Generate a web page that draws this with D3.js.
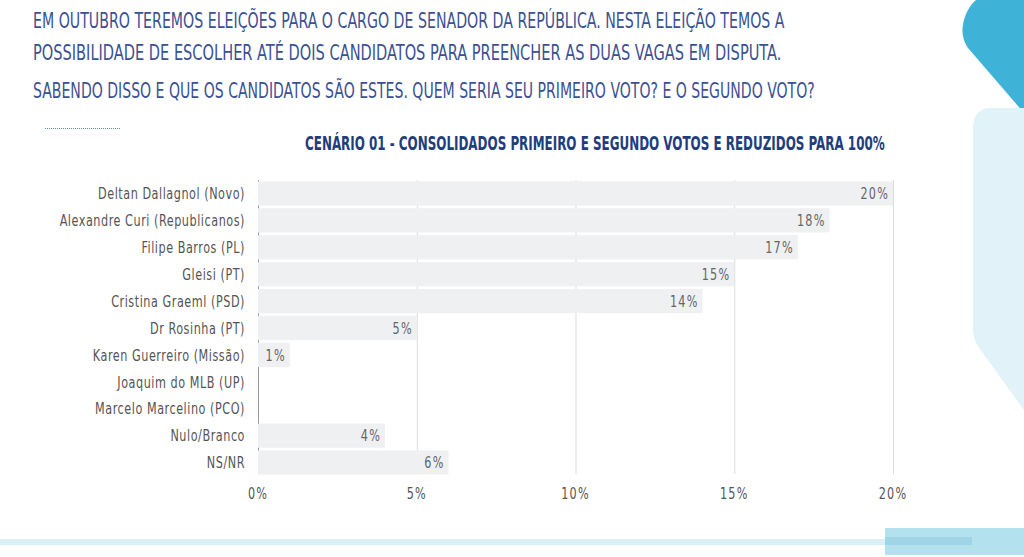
<!DOCTYPE html>
<html lang="pt">
  <head>
    <meta charset="utf-8">
    <title>Cenário 01</title>
    <style>
      html, body { margin: 0; padding: 0; background: #fff; }
      svg { display: block; }
    </style>
  </head>
  <body>
    <svg width="1024" height="557"></svg>
    <script src="https://cdn.jsdelivr.net/npm/d3@7/dist/d3.min.js"></script>
    <script>
      const headerLines = [
        'EM OUTUBRO TEREMOS ELEIÇÕES PARA O CARGO DE SENADOR DA REPÚBLICA. NESTA ELEIÇÃO TEMOS A',
        'POSSIBILIDADE DE ESCOLHER ATÉ DOIS CANDIDATOS PARA PREENCHER AS DUAS VAGAS EM DISPUTA.',
        'SABENDO DISSO E QUE OS CANDIDATOS SÃO ESTES. QUEM SERIA SEU PRIMEIRO VOTO? E O SEGUNDO VOTO?'
      ];
      const chartTitle = 'CENÁRIO 01 - CONSOLIDADOS PRIMEIRO E SEGUNDO VOTOS E REDUZIDOS PARA 100%';

      const categories = [
        'Deltan Dallagnol (Novo)',
        'Alexandre Curi (Republicanos)',
        'Filipe Barros (PL)',
        'Gleisi (PT)',
        'Cristina Graeml (PSD)',
        'Dr Rosinha (PT)',
        'Karen Guerreiro (Missão)',
        'Joaquim do MLB (UP)',
        'Marcelo Marcelino (PCO)',
        'Nulo/Branco',
        'NS/NR'
      ];
      const values = [20, 18, 17, 15, 14, 5, 1, 0, 0, 4, 6];
      const xTicks = [0, 5, 10, 15, 20];

      const svg = d3.select('svg');
      const font = '"DejaVu Sans Condensed", "DejaVu Sans", sans-serif';
      const squeeze = 0.78;

      // decoration on the right and bottom
      svg.append('path')
        .attr('d', 'M976,0 L1024,0 L1024,113 L968,48 Q958,34 966,14 Q970,5 976,0 Z')
        .attr('fill', '#3eb3d7');
      svg.append('path')
        .attr('d', 'M1024,108 L992,108 Q973,108 973,128 L973,330 Q973,340 980,349 L1024,410 Z')
        .attr('fill', '#e1f2f8');
      svg.append('rect').attr('x', 0).attr('y', 539).attr('width', 1024).attr('height', 6)
        .attr('fill', '#daeff6');
      svg.append('rect').attr('x', 885).attr('y', 528).attr('width', 139).attr('height', 27)
        .attr('fill', '#b3e1ed');
      svg.append('rect').attr('x', 885).attr('y', 537).attr('width', 87).attr('height', 8)
        .attr('fill', '#9fd6e7');

      // fit a text to a given width by scaling it horizontally
      function fitWidth(sel, x, y, width) {
        sel.each(function(d, i) {
          const w = this.getComputedTextLength();
          const k = (typeof width === 'function' ? width(d, i) : width) / w;
          const yy = typeof y === 'function' ? y(d, i) : y;
          d3.select(this).attr('transform', 'translate(' + x + ',' + yy + ') scale(' + k + ',1)');
        });
      }

      // header question
      const headerLen = [752, 749, 782];
      const headerY = [28, 60, 98];
      svg.selectAll('text.header')
        .data(headerLines).enter()
        .append('text')
        .attr('class', 'header')
        .style('font-family', font)
        .style('font-size', '22px')
        .attr('fill', '#3c5193')
        .text(function(d) { return d; })
        .call(fitWidth, 33, function(d, i) { return headerY[i]; }, function(d, i) { return headerLen[i]; });

      svg.append('line')
        .attr('x1', 45).attr('x2', 120).attr('y1', 128.5).attr('y2', 128.5)
        .attr('stroke', '#6a7fc0').attr('stroke-width', 1)
        .attr('stroke-dasharray', '1,1');

      svg.append('text')
        .style('font-family', font)
        .style('font-size', '19px')
        .style('font-weight', 'bold')
        .attr('fill', '#213d7e')
        .text(chartTitle)
        .call(fitWidth, 305, 150, 580);

      // chart
      const x = d3.scaleLinear().domain([0, 20]).range([258, 893]);
      const y = d3.scaleBand().domain(categories).range([180, 476])
        .paddingInner(0.1).paddingOuter(0.05);

      // gridlines
      svg.append('g').selectAll('line')
        .data(xTicks.slice(1)).enter()
        .append('line')
        .attr('x1', function(d) { return x(d) + 0.5; })
        .attr('x2', function(d) { return x(d) + 0.5; })
        .attr('y1', 180).attr('y2', 474)
        .attr('stroke', '#dcdcdc');

      // zero axis line
      svg.append('line')
        .attr('x1', x(0) + 0.5).attr('x2', x(0) + 0.5)
        .attr('y1', 180).attr('y2', 474)
        .attr('stroke', '#9a9a9a');

      svg.append('g').selectAll('rect')
        .data(values).enter()
        .append('rect')
        .attr('x', x(0))
        .attr('y', function(d, i) { return y(categories[i]); })
        .attr('width', function(d) { return x(d) - x(0); })
        .attr('height', y.bandwidth())
        .attr('fill', '#eef0f1');

      // value labels
      svg.append('g').selectAll('text')
        .data(values.map(function(v, i) { return { v: v, c: categories[i] }; })
          .filter(function(d) { return d.v > 0; }))
        .enter()
        .append('text')
        .attr('transform', function(d) {
          return 'translate(' + (x(d.v) - 4) + ',' + (y(d.c) + y.bandwidth() / 2) + ') scale(' + squeeze + ',1)';
        })
        .attr('dy', '0.36em')
        .attr('text-anchor', 'end')
        .style('font-family', font)
        .style('font-size', '16px')
        .style('letter-spacing', '1.5px')
        .attr('fill', '#666')
        .text(function(d) { return d.v + '%'; });

      // category labels
      svg.append('g').selectAll('text')
        .data(categories).enter()
        .append('text')
        .attr('transform', function(d) {
          return 'translate(245,' + (y(d) + y.bandwidth() / 2) + ') scale(' + squeeze + ',1)';
        })
        .attr('dy', '0.36em')
        .attr('text-anchor', 'end')
        .style('font-family', font)
        .style('font-size', '16px')
        .style('letter-spacing', '0.7px')
        .attr('fill', '#555')
        .text(function(d) { return d; });

      // x axis labels
      svg.append('g').selectAll('text')
        .data(xTicks).enter()
        .append('text')
        .attr('transform', function(d) { return 'translate(' + x(d) + ',493) scale(' + squeeze + ',1)'; })
        .attr('dy', '0.36em')
        .attr('text-anchor', 'middle')
        .style('font-family', font)
        .style('font-size', '16px')
        .style('letter-spacing', '1.5px')
        .attr('fill', '#555')
        .text(function(d) { return d + '%'; });
    </script>
  </body>
</html>
